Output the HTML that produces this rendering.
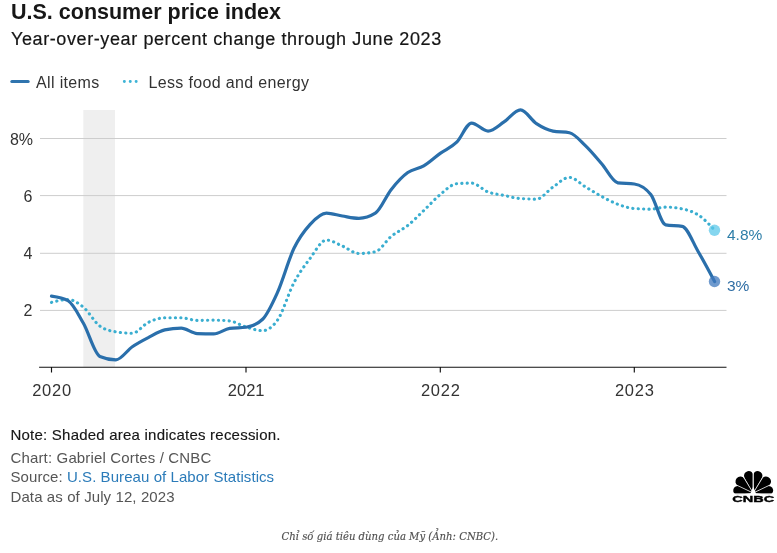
<!DOCTYPE html>
<html><head><meta charset="utf-8">
<style>
html,body{margin:0;padding:0;background:#fff;}
body{width:777px;height:553px;position:relative;overflow:hidden;font-family:"Liberation Sans",sans-serif;}
.t{position:absolute;white-space:nowrap;line-height:1;}
#title{left:11px;top:2px;font-size:21.5px;font-weight:bold;color:#171717;}
#sub{left:11px;top:30px;font-size:18px;letter-spacing:0.6px;color:#151515;-webkit-text-stroke:0.2px #151515;}
.leg{font-size:16px;letter-spacing:0.35px;color:#333;}
.foot{font-size:15px;color:#555;left:10.5px;}
#cap{font-family:"DejaVu Serif",serif;font-style:italic;font-size:10.1px;color:#505050;-webkit-text-stroke:0.15px #505050;left:281.5px;top:532px;}
a{color:#2b7bb9;text-decoration:none;}
svg{position:absolute;left:0;top:0;}
svg text{font-family:"Liberation Sans",sans-serif;}
</style></head><body>
<div class="t" id="title">U.S. consumer price index</div>
<div class="t" id="sub">Year-over-year percent change through June 2023</div>
<div class="t leg" style="left:36px;top:75px;">All items</div>
<div class="t leg" style="left:148.5px;top:75px;">Less food and energy</div>
<svg width="777" height="553" viewBox="0 0 777 553">
<line x1="11.8" y1="81.4" x2="28.2" y2="81.4" stroke="#2f74ae" stroke-width="3" stroke-linecap="round"/>
<line x1="124.3" y1="81.5" x2="137" y2="81.5" stroke="#3fb4d6" stroke-width="2.9" stroke-linecap="round" stroke-dasharray="0.1 5.8"/>
<rect x="83.3" y="110" width="31.7" height="257" fill="#efefef"/>
<g stroke="#cdcdcd" stroke-width="1">
<line x1="40" y1="138.5" x2="726.5" y2="138.5"/>
<line x1="40" y1="195.6" x2="726.5" y2="195.6"/>
<line x1="40" y1="253.3" x2="726.5" y2="253.3"/>
<line x1="40" y1="310.4" x2="726.5" y2="310.4"/>
</g>
<g stroke="#111" stroke-width="1.15">
<line x1="39.1" y1="367.25" x2="726.5" y2="367.25"/>
<line x1="51.5" y1="367" x2="51.5" y2="372.5"/>
<line x1="246" y1="367" x2="246" y2="372.5"/>
<line x1="440.3" y1="367" x2="440.3" y2="372.5"/>
<line x1="634.3" y1="367" x2="634.3" y2="372.5"/>
</g>
<g font-size="16" fill="#333" text-anchor="end">
<text x="33" y="145">8%</text>
<text x="32.5" y="202">6</text>
<text x="32.5" y="259">4</text>
<text x="32.5" y="316">2</text>
</g>
<g font-size="16.5" fill="#333" text-anchor="middle" letter-spacing="0.75">
<text x="52" y="396.3">2020</text>
<text x="246.2" y="396.3" letter-spacing="0">2021</text>
<text x="440.8" y="396.3">2022</text>
<text x="634.8" y="396.3">2023</text>
</g>
<path d="M51.50,302.38C56.99,300.95,62.49,299.52,67.98,299.52C73.12,299.52,78.27,303.07,83.41,307.24C88.90,311.70,94.40,322.18,99.89,326.12C105.21,329.93,110.52,330.91,115.84,331.84C121.34,332.79,126.83,333.27,132.33,333.27C137.64,333.27,142.96,324.96,148.28,322.40C153.77,319.75,159.27,317.82,164.76,317.82C170.26,317.82,175.75,317.82,181.25,317.82C186.57,317.82,191.88,320.40,197.20,320.40C202.70,320.40,208.19,320.11,213.69,320.11C219.00,320.11,224.32,320.40,229.64,320.97C235.13,321.56,240.63,325.35,246.12,326.97C251.62,328.59,257.11,330.69,262.61,330.69C267.57,330.69,272.53,327.16,277.50,320.11C282.99,312.30,288.49,292.99,293.98,282.64C299.30,272.63,304.62,265.64,309.93,258.62C315.43,251.37,320.92,240.03,326.42,240.03C331.74,240.03,337.05,243.84,342.37,246.04C347.87,248.31,353.36,253.47,358.86,253.47C364.35,253.47,369.84,252.90,375.34,251.76C380.66,250.65,385.97,240.65,391.29,236.31C396.79,231.83,402.28,229.83,407.78,225.44C413.09,221.20,418.41,215.63,423.73,210.57C429.22,205.34,434.72,199.04,440.21,194.56C445.71,190.08,451.20,184.11,456.70,183.69C461.66,183.31,466.62,183.12,471.59,183.12C477.08,183.12,482.58,189.93,488.07,191.98C493.39,193.97,498.71,194.33,504.02,195.41C509.52,196.53,515.01,198.17,520.51,198.56C525.83,198.94,531.14,199.13,536.46,199.13C541.96,199.13,547.45,190.74,552.95,187.12C558.44,183.50,563.94,177.40,569.43,177.40C574.75,177.40,580.07,183.69,585.38,186.83C590.88,190.08,596.37,193.61,601.87,196.56C607.19,199.41,612.50,202.29,617.82,204.28C623.32,206.33,628.81,208.19,634.30,208.57C639.80,208.95,645.29,209.14,650.79,209.14C655.75,209.14,660.72,207.14,665.68,207.14C671.17,207.14,676.67,207.71,682.16,208.86C687.48,209.96,692.80,211.44,698.12,214.86C703.61,218.40,709.11,224.21,714.60,230.02" fill="none" stroke="#3aaed0" stroke-width="3.1" stroke-linecap="round" stroke-dasharray="0.2 5.2"/>
<path d="M51.50,296.09C56.99,296.85,62.49,297.61,67.98,300.66C73.12,303.52,78.27,314.36,83.41,323.26C88.90,332.76,94.40,354.07,99.89,356.43C105.21,358.72,110.52,359.86,115.84,359.86C121.34,359.86,126.83,350.47,132.33,346.71C137.64,343.07,142.96,340.33,148.28,337.56C153.77,334.69,159.27,330.98,164.76,329.83C170.26,328.69,175.75,328.12,181.25,328.12C186.57,328.12,191.88,333.37,197.20,333.55C202.70,333.74,208.19,333.84,213.69,333.84C219.00,333.84,224.32,329.14,229.64,328.40C235.13,327.64,240.63,328.02,246.12,327.26C251.62,326.50,257.11,324.59,262.61,319.25C267.57,314.43,272.53,303.37,277.50,292.37C282.99,280.19,288.49,259.70,293.98,248.32C299.30,237.32,304.62,230.42,309.93,224.59C315.43,218.56,320.92,213.15,326.42,213.15C331.74,213.15,337.05,215.16,342.37,216.01C347.87,216.88,353.36,218.29,358.86,218.29C364.35,218.29,369.84,216.58,375.34,213.15C380.66,209.82,385.97,196.11,391.29,189.41C396.79,182.49,402.28,176.45,407.78,172.53C413.09,168.74,418.41,169.07,423.73,165.96C429.22,162.74,434.72,157.33,440.21,153.37C445.71,149.42,451.20,147.70,456.70,142.22C461.66,137.27,466.62,123.06,471.59,123.06C477.08,123.06,482.58,131.06,488.07,131.06C493.39,131.06,498.71,125.37,504.02,121.91C509.52,118.34,515.01,109.90,520.51,109.90C525.83,109.90,531.14,120.12,536.46,123.63C541.96,127.25,547.45,129.92,552.95,131.06C558.44,132.21,563.94,131.64,569.43,132.78C574.75,133.89,580.07,140.57,585.38,145.65C590.88,150.90,596.37,157.65,601.87,163.95C607.19,170.06,612.50,182.09,617.82,182.83C623.32,183.59,628.81,183.21,634.30,183.97C639.80,184.74,645.29,187.50,650.79,194.56C655.75,200.93,660.72,224.01,665.68,224.87C671.17,225.83,676.67,225.35,682.16,226.30C687.48,227.22,692.80,242.44,698.12,251.47C703.61,260.80,709.11,271.15,714.60,281.50" fill="none" stroke="#2a6fab" stroke-width="3.2" stroke-linecap="round" stroke-linejoin="round"/>
<circle cx="714.5" cy="230.2" r="5.7" fill="#5cc8ea" fill-opacity="0.75"/>
<circle cx="714.5" cy="281.5" r="5.7" fill="#3f78bd" fill-opacity="0.75"/>
<text x="727" y="240" font-size="15.5" fill="#2d7ea8">4.8%</text>
<text x="727" y="291.3" font-size="15.5" fill="#2e6da4">3%</text>
<!-- CNBC logo -->
<g id="logo" fill="#000"><path transform="translate(753.2,493.0) rotate(-9.5)" d="M0,0L14.41,-4.31A4.5,4.5 0 1 1 14.41,4.31Z"/><path transform="translate(753.2,493.0) rotate(-42)" d="M0,0L15.75,-4.78A5.0,5.0 0 1 1 15.75,4.78Z"/><path transform="translate(753.2,493.0) rotate(-75.5)" d="M0,0L16.67,-4.54A4.7,4.7 0 1 1 16.67,4.54Z"/><path transform="translate(753.2,493.0) rotate(-104.5)" d="M0,0L16.67,-4.54A4.7,4.7 0 1 1 16.67,4.54Z"/><path transform="translate(753.2,493.0) rotate(-138)" d="M0,0L15.75,-4.78A5.0,5.0 0 1 1 15.75,4.78Z"/><path transform="translate(753.2,493.0) rotate(-170.5)" d="M0,0L14.41,-4.31A4.5,4.5 0 1 1 14.41,4.31Z"/></g>
<g stroke="#fff"><line x1="753.2" y1="493.0" x2="775.76" y2="482.24" stroke-width="0.75"/><line x1="753.2" y1="493.0" x2="766.26" y2="471.68" stroke-width="0.75"/><line x1="753.2" y1="493.0" x2="753.20" y2="468.00" stroke-width="1.2"/><line x1="753.2" y1="493.0" x2="740.14" y2="471.68" stroke-width="0.75"/><line x1="753.2" y1="493.0" x2="730.64" y2="482.24" stroke-width="0.75"/></g>
<path d="M750.3,494L756.1,494L753.2,486.5Z" fill="#fff"/>
<rect x="730" y="493.4" width="46" height="1.5" fill="#fff"/>
<text transform="translate(753.3,501.7) scale(1.47,1)" text-anchor="middle" font-size="9.9" font-weight="bold" fill="#000" stroke="#000" stroke-width="0.4">CNBC</text>
</svg>
<div class="t foot" style="top:427px;color:#161616;letter-spacing:0.22px;-webkit-text-stroke:0.15px #161616">Note: Shaded area indicates recession.</div>
<div class="t foot" style="top:450px;letter-spacing:0.15px">Chart: Gabriel Cortes / CNBC</div>
<div class="t foot" style="top:469px;letter-spacing:0.07px">Source: <a>U.S. Bureau of Labor Statistics</a></div>
<div class="t foot" style="top:488.5px;letter-spacing:0.1px">Data as of July 12, 2023</div>
<div class="t" id="cap">Chỉ số giá tiêu dùng của Mỹ (Ảnh: CNBC).</div>
</body></html>
